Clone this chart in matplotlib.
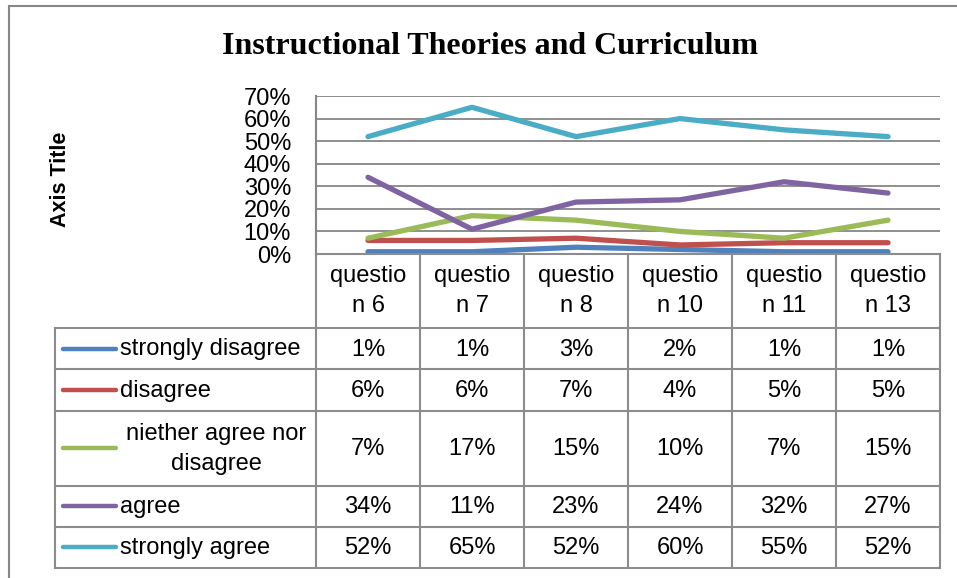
import matplotlib.pyplot as plt
from matplotlib.ticker import FuncFormatter

# data
categories = ["questio\nn 6", "questio\nn 7", "questio\nn 8",
              "questio\nn 10", "questio\nn 11", "questio\nn 13"]
series_names = ["strongly disagree", "disagree", "niether agree nor\ndisagree",
                "agree", "strongly agree"]
strongly_disagree = [1, 1, 3, 2, 1, 1]
disagree = [6, 6, 7, 4, 5, 5]
neither = [7, 17, 15, 10, 7, 15]
agree = [34, 11, 23, 24, 32, 27]
strongly_agree = [52, 65, 52, 60, 55, 52]
all_series = [strongly_disagree, disagree, neither, agree, strongly_agree]
colors = ["#4F81BD", "#C0504D", "#9BBB59", "#8064A2", "#4BACC6"]

W, H = 957, 578
fig = plt.figure(figsize=(W / 100, H / 100), dpi=100)
plt.rcParams['font.family'] = ['Liberation Sans', 'DejaVu Sans']
FS = 17
grid_c = "#868686"
tab_c = "#8c8c8c"

# pixel layout of plot area / table
px_left, px_right = 316, 940
px_top, px_bottom = 96, 254
leg_left = 55
row_lines = [328, 369, 411, 485.5, 526.5, 568]

# background overlay axes in pixel coords
bg = fig.add_axes([0, 0, 1, 1])
bg.set_xlim(0, W)
bg.set_ylim(H, 0)
bg.axis('off')

# chart border
bg.plot([9, 9, W], [H, 6, 6], color=grid_c, lw=1.5, solid_joinstyle='miter')

# main plot
ax = fig.add_axes([px_left / W, 1 - px_bottom / H,
                   (px_right - px_left) / W, (px_bottom - px_top) / H])
n = len(categories)
x = list(range(n))
for vals, c in zip(all_series, colors):
    ax.plot(x, vals, color=c, lw=3.8, solid_capstyle='round')
ax.set_xlim(-0.5, n - 0.5)
ax.set_ylim(0, 70)
ax.set_yticks(range(0, 71, 10))
ax.yaxis.set_major_formatter(FuncFormatter(lambda v, p: f"{v:.0f}%"))
ax.tick_params(axis='y', length=0, pad=18, labelsize=FS)
ax.set_xticks([])
ax.grid(axis='y', color=grid_c, lw=1.3)
ax.set_axisbelow(True)
for s in ['top', 'right']:
    ax.spines[s].set_visible(False)
ax.spines['left'].set_color(grid_c)
ax.spines['left'].set_linewidth(1.5)
ax.spines['bottom'].set_color(tab_c)
ax.spines['bottom'].set_linewidth(1.5)

# titles
bg.text(490, 46, "Instructional Theories and Curriculum", family='Liberation Serif',
        fontweight='bold', fontsize=23, ha='center', va='center')
bg.text(61, 179, "Axis Title", fontweight='bold', fontsize=15.5, rotation=90,
        ha='center', va='center')

# data table
col_w = (px_right - px_left) / n
col_x = [px_left + i * col_w for i in range(n + 1)]
for cx in col_x:
    bg.plot([cx, cx], [px_bottom, row_lines[-1]], color=tab_c, lw=1.5)
bg.plot([leg_left, leg_left], [row_lines[0], row_lines[-1]], color=tab_c, lw=1.5)
for ry in row_lines:
    bg.plot([leg_left, px_right], [ry, ry], color=tab_c, lw=1.5)

for i, cat in enumerate(categories):
    bg.text(col_x[i] + col_w / 2, (px_bottom + row_lines[0]) / 2, cat,
            fontsize=FS, ha='center', va='center', linespacing=1.5)

for r, (name, vals, c) in enumerate(zip(series_names, all_series, colors)):
    yc = (row_lines[r] + row_lines[r + 1]) / 2
    bg.plot([63, 116], [yc, yc], color=c, lw=3.2, solid_capstyle='round')
    if "\n" in name:
        bg.text(216, yc + 1, name, fontsize=FS, ha='center', va='center',
                multialignment='center', linespacing=1.45)
    else:
        bg.text(120, yc + 1, name, fontsize=FS, ha='left', va='center')
    for i, v in enumerate(vals):
        bg.text(col_x[i] + col_w / 2, yc + 1, f"{v}%", fontsize=FS,
                ha='center', va='center')

fig.savefig("out.png", dpi=100)
